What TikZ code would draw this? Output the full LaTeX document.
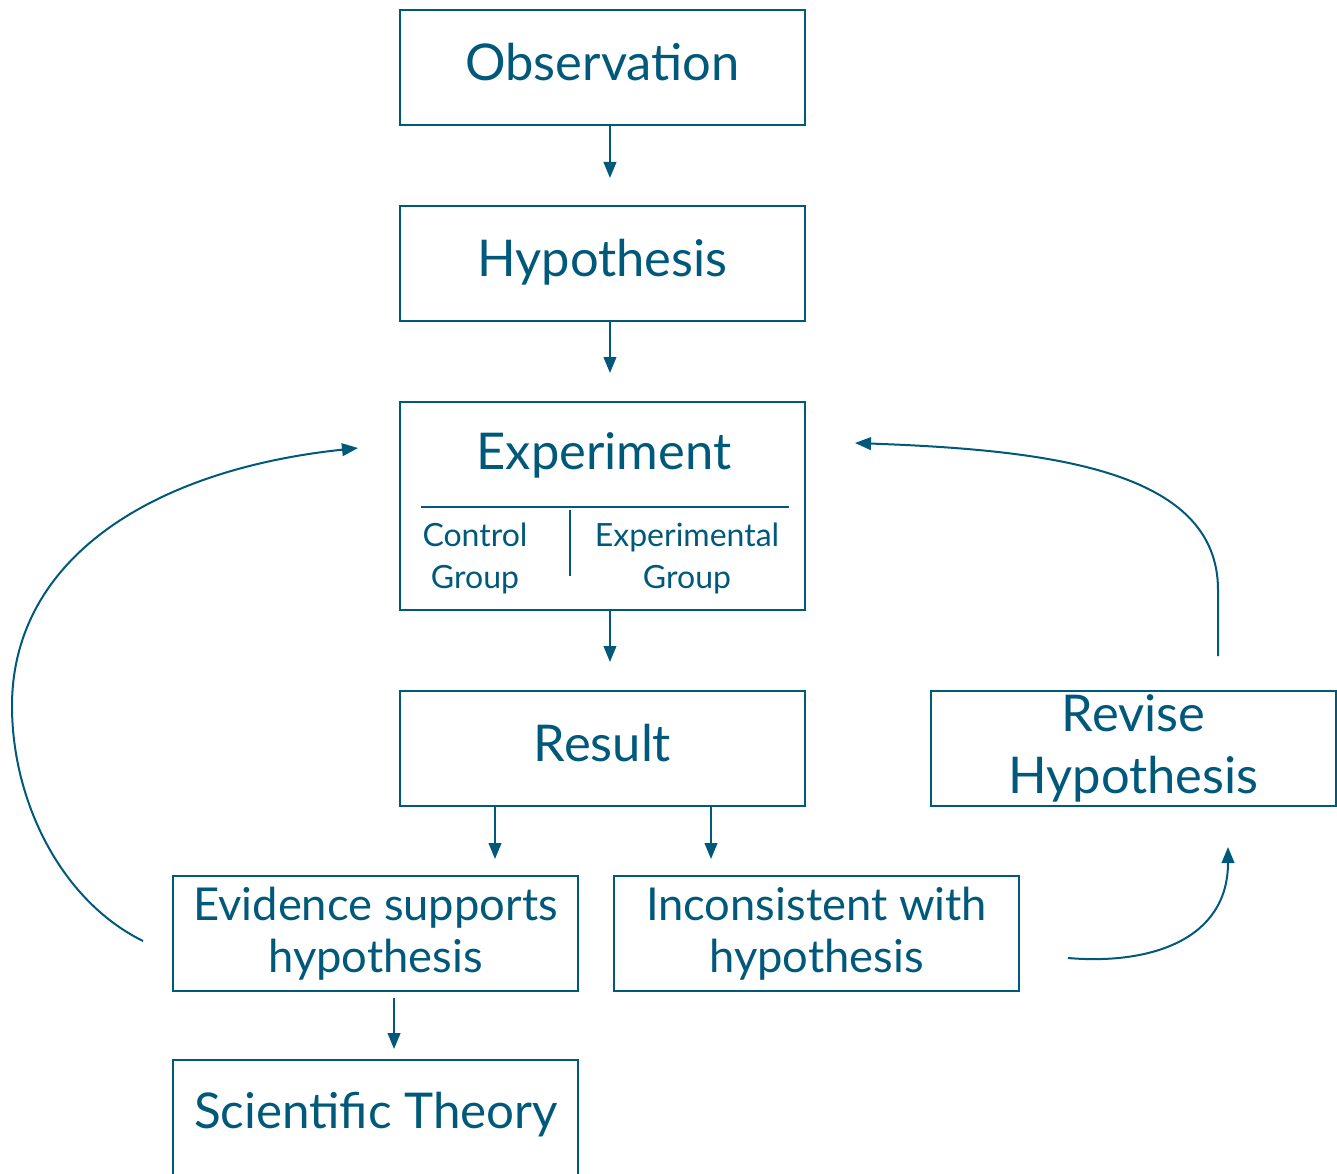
\documentclass[tikz,border=0pt]{standalone}
\usepackage{fontspec}
\setmainfont{Lato}
\usetikzlibrary{arrows.meta,calc}
\definecolor{ink}{RGB}{0,89,122}
\begin{document}
\begin{tikzpicture}[x=0.75pt,y=-0.75pt,
  line width=1.5pt, draw=ink, text=ink,
  frame/.style={draw=ink, rectangle, inner sep=0pt, minimum width=303.75pt, minimum height=86.25pt,
    align=center},
  box/.style={frame, font=\fontsize{38}{40.5}\selectfont, text height=28.5pt, text depth=9pt},
  twoline/.style={frame, font=\fontsize{34}{39}\selectfont},
  title/.style={inner sep=0pt, font=\fontsize{38}{40.5}\selectfont},
  small/.style={inner sep=0pt, align=center, font=\fontsize{24}{31.5}\selectfont},
  arr/.style={draw=ink, -{Triangle[length=12pt,width=9.5pt]}}]
\useasboundingbox (0,0) rectangle (1337,1173);
\clip (0,0) rectangle (1337,1173);

% boxes
\node[box] (obs) at (602.5,67.5) {Observation};
\node[box] (hyp) at (602.5,263.5) {Hypothesis};
\node[frame, minimum height=156pt] (exp) at (602.5,506) {};
\node[title] (exptitle) at (604,455) {Experiment};
\node[small] (ctrl) at (475,558) {Control\\Group};
\node[small] (expg) at (687,558) {Experimental\\Group};
\draw (421,507) -- (789,507);
\draw (570,510) -- (570,576);
\node[box] (res) at (602.5,748.5) {Result};
\node[frame, font=\fontsize{38}{46.5}\selectfont] (rev) at (1133.5,748.5) {Revise\\Hypothesis};
\node[twoline] (evi) at (375.5,933.5) {Evidence supports\\hypothesis};
\node[twoline] (inc) at (816.5,933.5) {Inconsistent with\\hypothesis};
\node[frame, minimum height=97.5pt] (thy) at (375.5,1125) {};
\node[title, font=\fontsize{37}{40}\selectfont] (thytext) at (376,1115) {Scientific Theory};

% straight connectors
\draw[arr, shorten >=20.25pt] ([xshift=5.6pt]obs.south) -- ([xshift=5.6pt]hyp.north);
\draw[arr, shorten >=21pt] ([xshift=5.6pt]hyp.south) -- ([xshift=5.6pt]exp.north);
\draw[arr, shorten >=21pt] ([xshift=5.6pt]exp.south) -- ([xshift=5.6pt]res.north);
\draw[arr, shorten >=12pt] ([xshift=72pt]res.south west) -- ([xshift=72pt]res.south west |- evi.north);
\draw[arr, shorten >=12pt] ([xshift=234pt]res.south west) -- ([xshift=234pt]res.south west |- inc.north);
\draw[arr, shorten <=4.5pt, shorten >=7.5pt] ([xshift=13.9pt]evi.south) -- ([xshift=13.9pt]thy.north);

% feedback loops
\coordinate (loopA) at (143,941);
\coordinate (loopAend) at (358,448);
\draw[arr] (loopA) .. controls (60,900) and (12,800) .. (12,706)
  .. controls (12,560) and (150,470) .. (loopAend);

\coordinate (loopB) at (1218,656);
\coordinate (loopBend) at (855,443);
\draw[arr] (loopB) -- (1218,590) .. controls (1218,470) and (1050,450) .. (loopBend);

\coordinate (loopC) at (1068,958);
\coordinate (loopCend) at (1228,847);
\draw[arr] (loopC) .. controls (1150,965) and (1228,940) .. (loopCend);
\end{tikzpicture}
\end{document}
